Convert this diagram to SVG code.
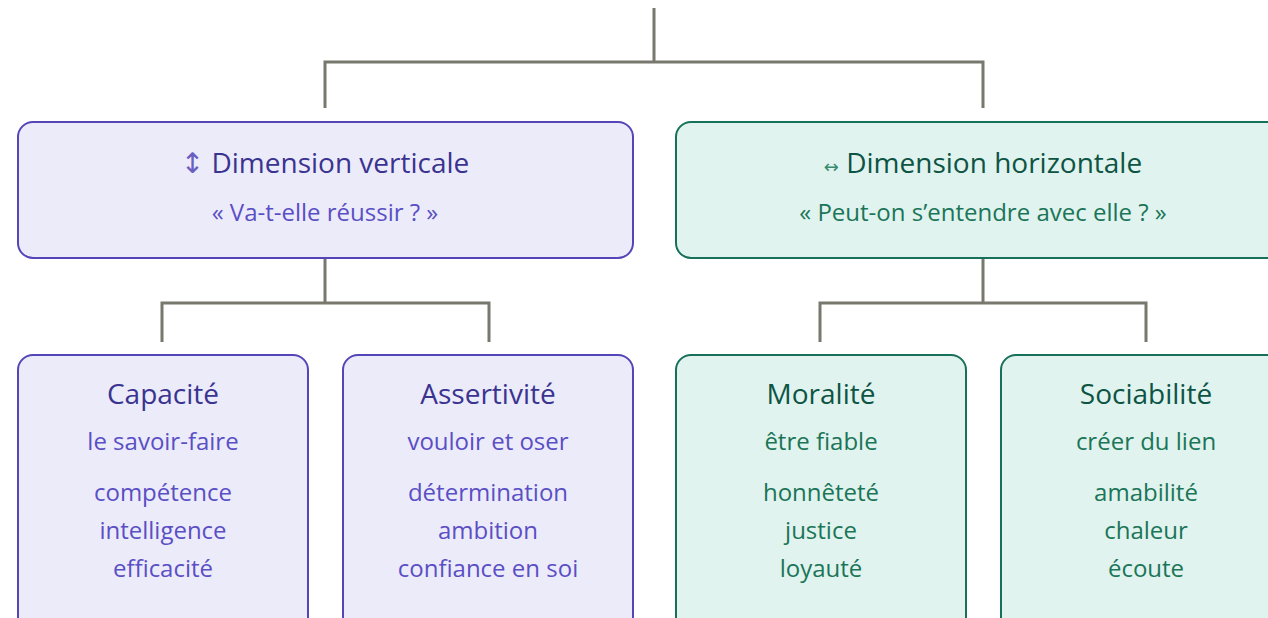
<svg xmlns="http://www.w3.org/2000/svg" width="1268" height="618" viewBox="0 0 1268 618">
<style>
text{font-family:"Open Sans","Noto Sans","Liberation Sans",sans-serif;text-anchor:middle}
.conn{fill:none;stroke:#78786f;stroke-width:3}
.pbox{fill:#ecebfa;stroke:#5446b8;stroke-width:2}
.gbox{fill:#e0f3ee;stroke:#17705a;stroke-width:2}
.pt{fill:#3a3390}
.ps{fill:#5a4fc4}
.gt{fill:#0d5444}
.gs{fill:#1b7558}
.h1{font-size:28px}
.h2{font-size:24px}
.t1{font-size:28px}
.t2{font-size:24px}
</style>
<g id="connectors">
<path class="conn" d="M654 8V62M325 108V62H983V108"/>
<path class="conn" d="M325 258V303M162 342V303H489V342"/>
<path class="conn" d="M983 258V303M820 342V303H1146V342"/>
</g>
<g id="vertical">
<rect class="pbox" x="18" y="122" width="615" height="136" rx="15"/>
<text x="325" y="173" class="h1 pt"><tspan fill="#6a5fc0" font-family="DejaVu Sans" font-size="28">↕</tspan> Dimension verticale</text>
<text x="325" y="221" class="h2 ps">« Va-t-elle réussir ? »</text>
</g>
<g id="horizontal">
<rect class="gbox" x="676" y="122" width="615" height="136" rx="15"/>
<text x="983" y="173" class="h1 gt"><tspan fill="#3a8a70" font-family="DejaVu Sans" font-size="18">↔</tspan> Dimension horizontale</text>
<text x="983" y="221" class="h2 gs">« Peut-on s’entendre avec elle ? »</text>
</g>
<g id="capacite">
<rect class="pbox" x="18" y="355" width="290" height="280" rx="15"/>
<text x="163" y="404" class="t1 pt">Capacité</text>
<text x="163" y="450" class="t2 ps">le savoir-faire</text>
<text x="163" y="501" class="t2 ps">compétence</text>
<text x="163" y="539" class="t2 ps">intelligence</text>
<text x="163" y="577" class="t2 ps">efficacité</text>
</g>
<g id="assertivite">
<rect class="pbox" x="343" y="355" width="290" height="280" rx="15"/>
<text x="488" y="404" class="t1 pt">Assertivité</text>
<text x="488" y="450" class="t2 ps">vouloir et oser</text>
<text x="488" y="501" class="t2 ps">détermination</text>
<text x="488" y="539" class="t2 ps">ambition</text>
<text x="488" y="577" class="t2 ps">confiance en soi</text>
</g>
<g id="moralite">
<rect class="gbox" x="676" y="355" width="290" height="280" rx="15"/>
<text x="821" y="404" class="t1 gt">Moralité</text>
<text x="821" y="450" class="t2 gs">être fiable</text>
<text x="821" y="501" class="t2 gs">honnêteté</text>
<text x="821" y="539" class="t2 gs">justice</text>
<text x="821" y="577" class="t2 gs">loyauté</text>
</g>
<g id="sociabilite">
<rect class="gbox" x="1001" y="355" width="290" height="280" rx="15"/>
<text x="1146" y="404" class="t1 gt">Sociabilité</text>
<text x="1146" y="450" class="t2 gs">créer du lien</text>
<text x="1146" y="501" class="t2 gs">amabilité</text>
<text x="1146" y="539" class="t2 gs">chaleur</text>
<text x="1146" y="577" class="t2 gs">écoute</text>
</g>
</svg>
